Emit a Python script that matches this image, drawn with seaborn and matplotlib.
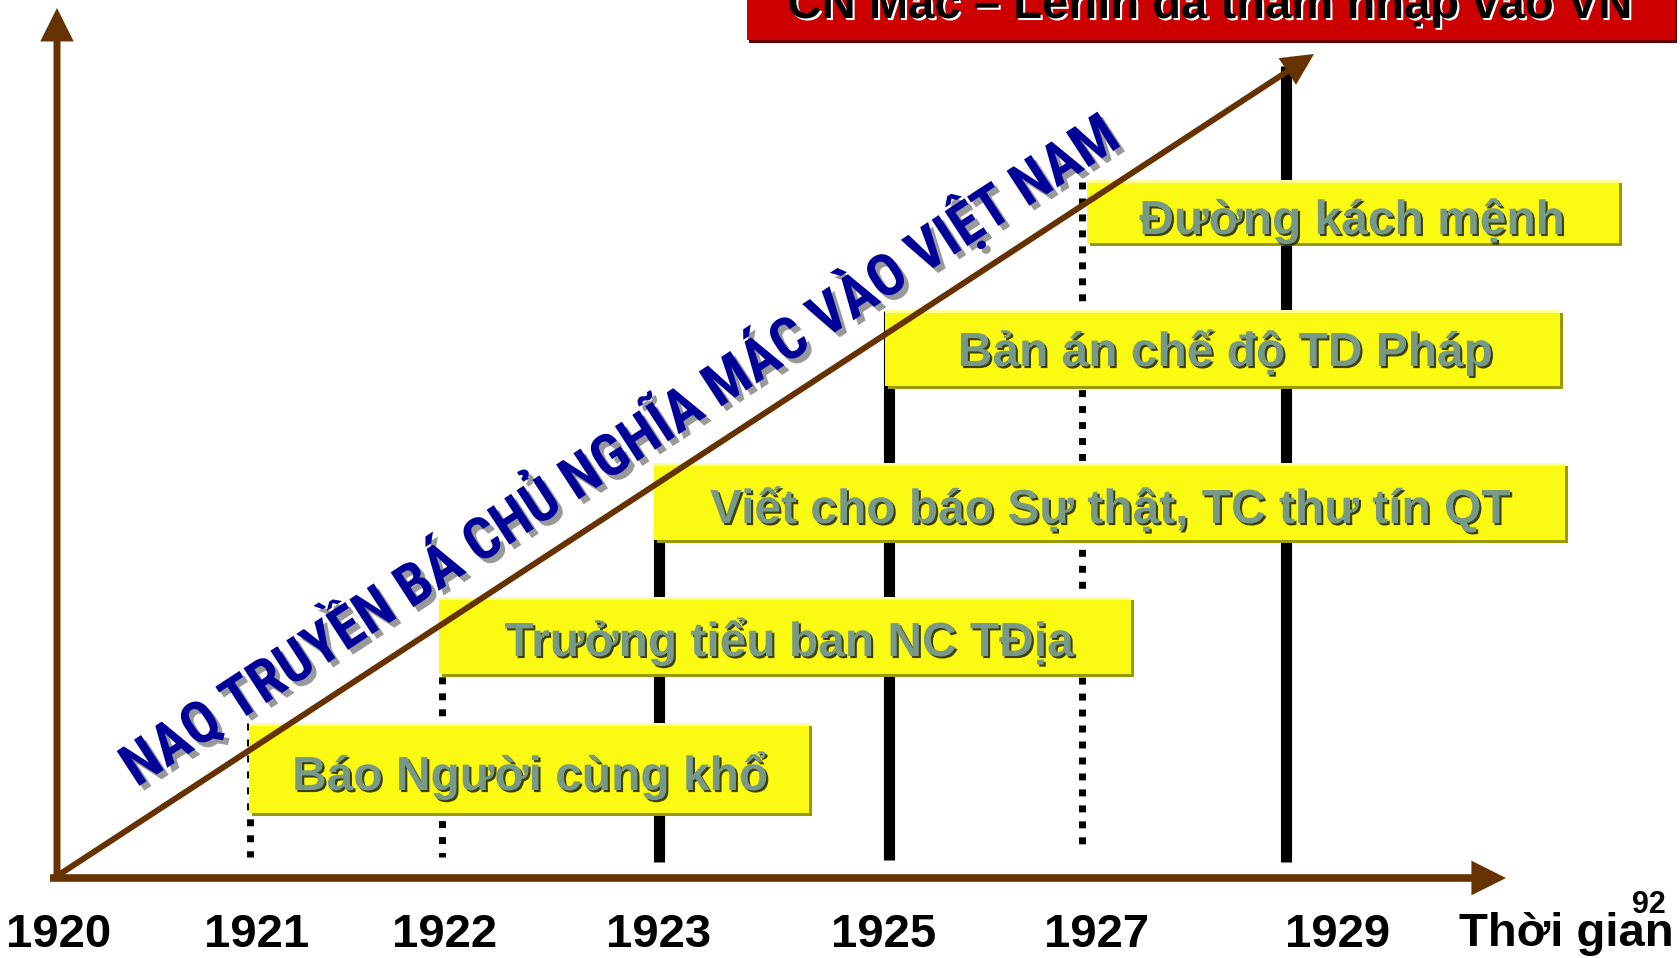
import numpy as np
import pandas as pd
import matplotlib
matplotlib.use('Agg')
import matplotlib.pyplot as plt
import matplotlib.patheffects as pe
from matplotlib.patches import Rectangle, FancyArrowPatch
from matplotlib import font_manager
from matplotlib.font_manager import FontProperties
import seaborn as sns

# data
years = ['1920', '1921', '1922', '1923', '1925', '1927', '1929']
axis_label = 'Thời gian'
page_no = '92'
events = ['Báo Người cùng khổ', 'Trưởng tiểu ban NC TĐịa',
          'Viết cho báo Sự thật, TC thư tín QT', 'Bản án chế độ TD Pháp',
          'Đường kách mệnh']
event_years = ['1921', '1922', '1923', '1925', '1927']
marker_years = ['1921', '1922', '1923', '1925', '1927', '1929']
marker_kind = ['dotted', 'dotted', 'solid', 'solid', 'dotted', 'solid']
trend_text = 'NAQ TRUYỀN BÁ CHỦ NGHĨA MÁC VÀO VIỆT NAM'
banner_text = 'CN Mác – Lênin đã thâm nhập vào VN'

# layout, in pixels of the 1680x958 canvas
label_x = [59, 257, 445, 659, 884, 1097, 1338]
marker_x = [250, 442, 659, 889, 1082, 1286]
marker_top = [723, 597, 463, 311, 182, 66]
marker_bottom = [857, 857, 862, 860, 846, 862]
box_left = [249, 439, 654, 885, 1087]
box_right = [809, 1131, 1565, 1560, 1619]
box_top = [723, 597, 463, 310, 180]
box_bottom = [813, 674, 540, 386, 243]
text_x = [530, 789, 1110, 1225, 1352]
text_base = [790, 656, 523, 366, 234]

brown = '#663300'
yellow = '#FAFA12'

sns.set_theme(style='white')
plt.rcParams['font.family'] = ['Liberation Sans', 'DejaVu Sans']

# a narrow bold face for the diagonal headline, if one is installed
trend_prop = FontProperties(family=['Liberation Sans', 'DejaVu Sans'], weight='bold')
prefs = ['LiberationSansNarrow-Bold', 'RobotoCondensed-Bold', 'OpenSans_Condensed-Bold',
         'OpenSansCondensed-Bold', 'NotoSans-CondensedBold', 'DejaVuSansCondensed-Bold']
files = [f.fname for f in font_manager.fontManager.ttflist]
for p in prefs:
    hit = [fn for fn in files if p.lower() in fn.lower().replace(' ', '')]
    if hit:
        trend_prop = FontProperties(fname=hit[0])
        break

fig = plt.figure(figsize=(16.8, 9.58), dpi=100)
ax = fig.add_axes([0, 0, 1, 1])
ax.set_xlim(0, 1680)
ax.set_ylim(958, 0)

# year markers (behind the boxes)
for xm, y0, y1, kind in zip(marker_x, marker_top, marker_bottom, marker_kind):
    d = pd.DataFrame({'x': [xm, xm], 'y': [y0, y1]})
    if kind == 'solid':
        sns.lineplot(data=d, x='x', y='y', ax=ax, color='black', lw=8,
                     estimator=None, sort=False, solid_capstyle='butt', zorder=2)
    else:
        sns.lineplot(data=d, x='x', y='y', ax=ax, color='black', lw=5,
                     estimator=None, sort=False, linestyle=(0, (1, 1.3)),
                     dash_capstyle='butt', zorder=2)

# event boxes
for i, txt in enumerate(events):
    l, r, t, b = box_left[i], box_right[i], box_top[i], box_bottom[i]
    ax.add_patch(Rectangle((l + 3, t + 3), r - l, b - t, fc='#999900', ec='none', zorder=3))
    ax.add_patch(Rectangle((l, t), r - l, b - t, fc=yellow, ec='none', zorder=4))
    ax.add_patch(Rectangle((l, t), r - l, 3, fc='#FFFF99', ec='none', zorder=4))
    ax.text(text_x[i], text_base[i], txt, ha='center', va='baseline', fontsize=34.5,
            fontweight='bold', color='#779988', zorder=5,
            path_effects=[pe.SimplePatchShadow(offset=(1.5, -1.5), shadow_rgbFace='#2a2a10', alpha=0.9),
                          pe.Normal()])

# axes arrows
def arrow(p0, p1, lw, scale):
    ax.add_patch(FancyArrowPatch(p0, p1, arrowstyle='-|>', mutation_scale=scale, lw=lw,
                                 color=brown, shrinkA=0, shrinkB=0, joinstyle='miter',
                                 capstyle='butt', zorder=6))

arrow((57, 878), (57, 8), 5, 40)
arrow((50, 878), (1506, 878), 5.5, 40)
arrow((54, 878), (1314, 54), 4.3, 40)

# diagonal headline: size it so its baseline length matches the slide (~1176 px)
fig.canvas.draw()
probe = ax.text(0, 0, trend_text, fontproperties=trend_prop, fontsize=40)
probe.set_fontweight('bold')
w = probe.get_window_extent(fig.canvas.get_renderer()).width
probe.remove()
trend_size = 40 * 1176 / w
ax.text(630, 466, trend_text, rotation=33.1, rotation_mode='anchor', ha='center',
        va='baseline', fontproperties=trend_prop, fontsize=trend_size, fontweight='bold',
        color='#000099', zorder=7,
        path_effects=[pe.SimplePatchShadow(offset=(3.5, -3.5), shadow_rgbFace='#999999', alpha=1),
                      pe.Normal()])

# year labels
for xl, yr in zip(label_x, years):
    ax.text(xl, 947, yr, ha='center', va='baseline', fontsize=34, fontweight='bold',
            color='black', zorder=7)
ax.text(1566, 946, axis_label, ha='center', va='baseline', fontsize=34,
        fontweight='bold', color='black', zorder=7)
ax.text(1649, 913, page_no, ha='center', va='baseline', fontsize=22,
        fontweight='bold', color='black', zorder=8)

# red banner cut at the top edge
ax.add_patch(Rectangle((749, -30), 928, 73, fc='#660000', ec='none', zorder=3))
ax.add_patch(Rectangle((747, -30), 928, 70, fc='#CC0000', ec='none', zorder=4))
ax.text(1210, 18, banner_text, ha='center', va='baseline', fontsize=34,
        fontweight='bold', color='black', zorder=5,
        path_effects=[pe.SimplePatchShadow(offset=(1.5, -1.5), shadow_rgbFace='white', alpha=1),
                      pe.Normal()])

ax.set_xlim(0, 1680)
ax.set_ylim(958, 0)
ax.axis('off')

fig.savefig('out.png', dpi=100)
